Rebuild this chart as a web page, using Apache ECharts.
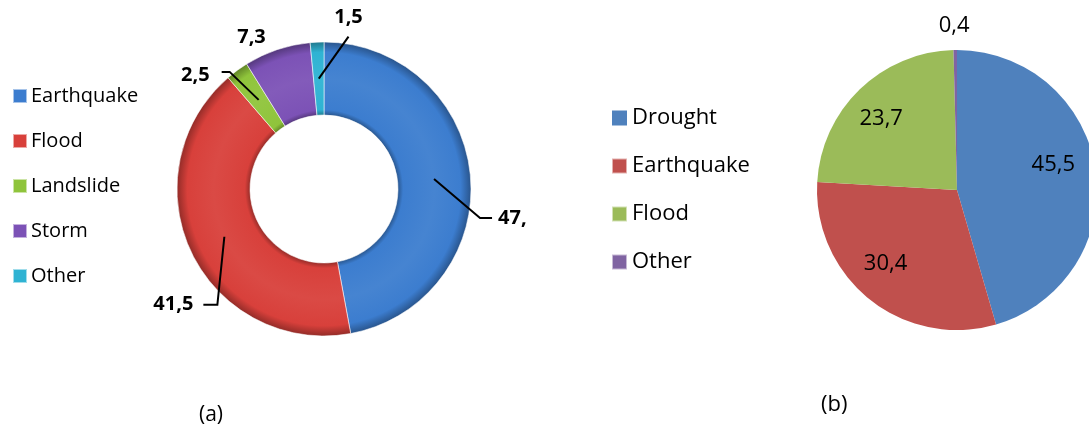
<!DOCTYPE html>
<html>
<head>
<meta charset="utf-8">
<script src="https://cdn.jsdelivr.net/npm/echarts@6/dist/echarts.min.js"></script>
<style>
  html, body { margin: 0; padding: 0; background: #fff; }
  #chart { width: 1089px; height: 424px; }
</style>
</head>
<body>
<div id="chart"></div>
<script>
// (a) share of disaster types, donut
const namesA = ['Earthquake', 'Flood', 'Landslide', 'Storm', 'Other'];
const valuesA = [47, 41.5, 2.5, 7.3, 1.5];
const labelsA = ['47,', '41,5', '2,5', '7,3', '1,5'];

// (b) share of disaster types, pie
const namesB = ['Drought', 'Earthquake', 'Flood', 'Other'];
const valuesB = [45.5, 30.4, 23.7, 0.4];

const colorsA = ['#3c7dcf', '#d8403b', '#8fc43b', '#7c52b6', '#2fb3d3'];
const colorsB = ['#4f81bd', '#c0504d', '#9bbb59', '#8064a2'];

const FONT = '"Open Sans", "Noto Sans", sans-serif';

// donut geometry
const cA = [324, 189];
const rInA = 74, rOutA = 147;
const leaderRadius = (rInA + rOutA) / 2;
// pie geometry
const cB = [957, 190];
const rB = 140;

function mix(hex, target, t) {
  const n = parseInt(hex.slice(1), 16);
  const r = (n >> 16) & 255, g = (n >> 8) & 255, b = n & 255;
  const m = (c) => Math.round(c + (target - c) * t);
  return 'rgb(' + m(r) + ',' + m(g) + ',' + m(b) + ')';
}

// bevelled ring fill: darker at both rims, slightly lighter mid band
function ringFill(hex) {
  const k = rInA / rOutA;
  return {
    type: 'radial', x: cA[0], y: cA[1], r: rOutA, global: true,
    colorStops: [
      { offset: 0, color: mix(hex, 0, 0.3) },
      { offset: k, color: mix(hex, 0, 0.3) },
      { offset: k + 0.035, color: hex },
      { offset: 0.75, color: mix(hex, 255, 0.05) },
      { offset: 0.93, color: hex },
      { offset: 1, color: mix(hex, 0, 0.32) }
    ]
  };
}

// label nudges (from the library's default outside placement) and leader style
const tweaksA = [
  { dx: 59, dy: 39, tail: 'left', gap: 6, run: 12, ly: 0 },
  { dx: -26, dy: 68, tail: 'right', gap: 10, run: 14, ly: 0 },
  { dx: -44, dy: -25, tail: 'right', gap: 12, run: 8, ly: -3 },
  { dx: -18, dy: -47, tail: 'none' },
  { dx: 49, dy: -61, tail: 'below', gap: 9 }
];

// (b) label nudges from the inner position
const tweaksB = [
  { dx: 24, dy: -15 },
  { dx: -26, dy: 17 },
  { dx: -25, dy: -19 },
  { dx: -2, dy: -91 }
];

const chart = echarts.init(document.getElementById('chart'), null, { renderer: 'canvas' });

chart.setOption({
  animation: false,
  backgroundColor: '#ffffff',
  title: [
    { text: '(a)', left: 194, top: 400, textStyle: { fontFamily: FONT, fontSize: 21, fontWeight: 'normal', color: '#000' } },
    { text: '(b)', left: 816, top: 389, textStyle: { fontFamily: FONT, fontSize: 22, fontWeight: 'normal', color: '#000' } }
  ],
  legend: [
    {
      orient: 'vertical', left: 12, top: 86, padding: 0,
      itemWidth: 14, itemHeight: 14, itemGap: 25, icon: 'rect',
      selectedMode: false,
      textStyle: { fontFamily: FONT, fontSize: 20, color: '#000', lineHeight: 20, padding: [0, 0, 0, -1] },
      data: namesA.map((n, i) => ({ name: n, itemStyle: { color: colorsA[i] } }))
    },
    {
      orient: 'vertical', left: 611, top: 107, padding: 0,
      itemWidth: 15, itemHeight: 15, itemGap: 26, icon: 'rect',
      selectedMode: false,
      textStyle: { fontFamily: FONT, fontSize: 22, color: '#000', lineHeight: 22 },
      data: namesB.map((n, i) => ({ name: n, itemStyle: { color: colorsB[i] } }))
    }
  ],
  series: [
    {
      name: 'a',
      type: 'pie',
      center: cA,
      radius: [rInA, rOutA],
      startAngle: 90,
      clockwise: true,
      avoidLabelOverlap: false,
      silent: true,
      z: 2,
      data: namesA.map((n, i) => ({
        name: n, value: valuesA[i],
        itemStyle: { color: ringFill(colorsA[i]) }
      })),
      itemStyle: { borderColor: 'rgba(255,255,255,0.55)', borderWidth: 1 },
      label: { show: false },
      labelLine: { show: false }
    },
    {
      // transparent overlay of the same shares; carries the bold labels and leaders
      name: 'a-labels',
      type: 'pie',
      center: cA,
      radius: [0, leaderRadius],
      startAngle: 90,
      clockwise: true,
      avoidLabelOverlap: false,
      silent: true,
      z: 3,
      data: namesA.map((n, i) => ({ name: n, value: valuesA[i] })),
      itemStyle: { color: 'rgba(0,0,0,0)', borderWidth: 0 },
      label: {
        show: true,
        position: 'outside',
        formatter: (p) => labelsA[p.dataIndex],
        fontFamily: FONT, fontSize: 20, fontWeight: 'bold', color: '#000'
      },
      labelLine: { show: true, length: 0, length2: 0, lineStyle: { color: '#000', width: 2 } },
      labelLayout: function (p) {
        const t = tweaksA[p.dataIndex];
        const r = p.labelRect;
        const x = r.x + t.dx, y = r.y + t.dy;
        const cy = y + r.height / 2 + (t.ly || 0);
        const start = p.labelLinePoints ? p.labelLinePoints[0] : [cA[0], cA[1]];
        let pts;
        if (t.tail === 'left') {
          const xe = x - t.gap;
          pts = [start, [xe - t.run, cy], [xe, cy]];
        } else if (t.tail === 'right') {
          const xe = x + r.width + t.gap;
          pts = [start, [xe + t.run, cy], [xe, cy]];
        } else if (t.tail === 'below') {
          const end = [x + r.width / 2, y + r.height + t.gap];
          pts = [start, end, end];
        } else {
          pts = [start, start, start];
        }
        return { dx: t.dx, dy: t.dy, labelLinePoints: pts };
      }
    },
    {
      name: 'b',
      type: 'pie',
      center: cB,
      radius: [0, rB],
      startAngle: 90,
      clockwise: true,
      avoidLabelOverlap: false,
      silent: true,
      data: namesB.map((n, i) => ({ name: n, value: valuesB[i], itemStyle: { color: colorsB[i] } })),
      label: {
        show: true,
        position: 'inside',
        formatter: (p) => String(p.value).replace('.', ','),
        fontFamily: FONT, fontSize: 22, color: '#000'
      },
      labelLine: { show: false },
      labelLayout: function (p) {
        const t = tweaksB[p.dataIndex];
        return { dx: t.dx, dy: t.dy };
      }
    }
  ]
});
</script>
</body>
</html>
